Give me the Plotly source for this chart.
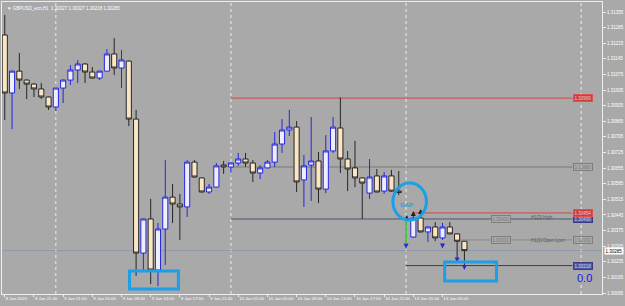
import plotly.graph_objects as go

# ---------------- data ----------------
bar_x = list(range(0, 55)) + list(range(56, 64))
open_ = [1.31252,1.30992,1.31090,1.31050,1.31032,1.31010,1.30974,1.30929,1.31014,1.31050,
         1.31095,1.31122,1.31086,1.31059,1.31090,1.31167,1.31104,1.31135,1.30875,1.30274,
         1.30427,1.30198,1.30382,1.30525,1.30494,1.30481,1.30682,1.30611,1.30548,1.30570,
         1.30669,1.30660,1.30678,1.30696,1.30678,1.30633,1.30656,1.30682,1.30763,1.30826,
         1.30839,1.30602,1.30669,1.30687,1.30561,1.30732,1.30835,1.30696,1.30656,1.30611,
         1.30543,1.30620,1.30552,1.30620,1.30552,
         1.30346,1.30431,1.30369,1.30391,1.30342,1.30391,1.30360,1.30327]
high = [1.31342,1.31092,1.31171,1.31052,1.31037,1.31037,1.30976,1.31016,1.31052,1.31117,
        1.31140,1.31126,1.31108,1.31092,1.31189,1.31238,1.31185,1.31137,1.30916,1.30429,
        1.30517,1.30409,1.30691,1.30584,1.30539,1.30691,1.30691,1.30613,1.30584,1.30678,
        1.30687,1.30680,1.30723,1.30723,1.30691,1.30669,1.30691,1.30817,1.30875,1.30916,
        1.30866,1.30714,1.30884,1.30727,1.30803,1.30884,1.30972,1.30732,1.30777,1.30613,
        1.30696,1.30651,1.30638,1.30647,1.30642,
        1.30454,1.30467,1.30393,1.30413,1.30409,1.30413,1.30362,1.30327]
low = [1.30871,1.30830,1.31010,1.30965,1.30974,1.30965,1.30916,1.30911,1.30947,1.31028,
       1.31037,1.31037,1.31057,1.31050,1.31088,1.31073,1.31014,1.30844,1.30172,1.30198,
       1.30135,1.30126,1.30221,1.30409,1.30333,1.30436,1.30613,1.30546,1.30539,1.30568,
       1.30629,1.30633,1.30665,1.30660,1.30593,1.30606,1.30654,1.30660,1.30723,1.30799,
       1.30548,1.30481,1.30508,1.30499,1.30543,1.30723,1.30633,1.30552,1.30570,1.30427,
       1.30517,1.30546,1.30539,1.30548,1.30534,
       1.30344,1.30367,1.30324,1.30328,1.30333,1.30358,1.30243,1.30218]
close = [1.30992,1.31090,1.31050,1.31032,1.31010,1.30974,1.30929,1.31014,1.31050,1.31095,
         1.31122,1.31086,1.31059,1.31090,1.31167,1.31104,1.31140,1.30875,1.30274,1.30427,
         1.30198,1.30382,1.30525,1.30494,1.30481,1.30682,1.30615,1.30548,1.30570,1.30665,
         1.30660,1.30678,1.30696,1.30678,1.30633,1.30656,1.30682,1.30763,1.30826,1.30839,
         1.30593,1.30665,1.30687,1.30561,1.30732,1.30839,1.30696,1.30651,1.30611,1.30588,
         1.30615,1.30548,1.30620,1.30552,1.30546,
         1.30431,1.30369,1.30391,1.30342,1.30391,1.30360,1.30327,1.30285]

gap_x = [55]
gap_top = [1.30427]
gap_bottom = [1.30319]

tick_bars = [0, 4, 8, 12, 16, 20, 24, 28, 32, 36, 40, 44, 48, 52, 56, 60]
tick_text = ["8 Jan 2020", "8 Jan 21:00", "9 Jan 01:00", "9 Jan 05:00", "9 Jan 09:00",
             "9 Jan 13:00", "9 Jan 17:00", "9 Jan 21:00", "10 Jan 01:00", "10 Jan 05:00",
             "10 Jan 09:00", "10 Jan 13:00", "10 Jan 17:00", "10 Jan 21:00",
             "13 Jan 01:00", "13 Jan 05:00"]
day_separators = [7, 31, 55, 79]

price_ticks = ["1.30095", "1.30165", "1.30235", "1.30305", "1.30375", "1.30445", "1.30515",
               "1.30585", "1.30655", "1.30725", "1.30795", "1.30865", "1.30935", "1.31005",
               "1.31075", "1.31145", "1.31215", "1.31285", "1.31355"]

level_prices = [1.30969, 1.30660, 1.30427, 1.30454, 1.30333, 1.30218]
level_start = [31, 31, 31, 56, 62, 55]
level_labels = ["1.30969", "1.30660", "1.30430", "1.30454", "1.30333", "1.30218"]

up_arrow_x = [55.1, 56, 57]
up_arrow_y = [1.30445, 1.30463, 1.30472]
down_arrow_x = [55, 60, 62, 63]
down_arrow_y = [1.30295, 1.30295, 1.30232, 1.30198]

bid_price = 1.30285
title_text = "▼ GBPUSD_ecn,H1  1.30327 1.30327 1.30218 1.30285"

# ---------------- styles ----------------
BG = "#A9A9A9"
CYAN = "#1B9FE6"
FONT = "Liberation Sans"
level_styles = [
    dict(line="#D24848", box_bg="#C84040", box_border="#E05050", text="#F4C8C8"),
    dict(line="#7A7A7A", box_bg="rgba(0,0,0,0)", box_border="#7E7E7E", text="#7A7A7A"),
    dict(line="#4E5474", box_bg="#5058A0", box_border="#383E80", text="#D0D4F0"),
    dict(line="#D24848", box_bg="#C84040", box_border="#E05050", text="#F4C8C8"),
    dict(line="#8A8A8A", box_bg="rgba(0,0,0,0)", box_border="#7E7E7E", text="#7A7A7A"),
    dict(line="#343C78", box_bg="#5058A0", box_border="#383E80", text="#D0D4F0"),
]

fig = go.Figure()

fig.add_trace(go.Candlestick(
    x=bar_x, open=open_, high=high, low=low, close=close,
    increasing=dict(line=dict(color="#2626E0", width=1), fillcolor="#EEEEFF"),
    decreasing=dict(line=dict(color="#262626", width=1), fillcolor="#FBE6C4"),
    whiskerwidth=0, showlegend=False, hoverinfo="skip",
))

for gx, gt, gb in zip(gap_x, gap_top, gap_bottom):
    fig.add_trace(go.Scatter(x=[gx, gx], y=[gt, gb], mode="lines",
                             line=dict(color="#22CC22", width=1.5),
                             showlegend=False, hoverinfo="skip"))

fig.add_trace(go.Scatter(x=up_arrow_x, y=up_arrow_y, mode="markers",
                         marker=dict(symbol="arrow-up", size=5, color="#202020"),
                         showlegend=False, hoverinfo="skip"))
fig.add_trace(go.Scatter(x=down_arrow_x, y=down_arrow_y, mode="markers",
                         marker=dict(symbol="arrow-down", size=5, color="#2828D0"),
                         showlegend=False, hoverinfo="skip"))

shapes = []
X_END = 77.8
for d in day_separators:
    shapes.append(dict(type="line", xref="x", yref="paper", x0=d, x1=d, y0=0, y1=1,
                       line=dict(color="#EDEDED", width=1, dash="dot"), layer="below"))
shapes.append(dict(type="line", xref="paper", yref="y", x0=0, x1=1, y0=bid_price, y1=bid_price,
                   line=dict(color="#8D9AAE", width=1), layer="below"))
for p, s, st in zip(level_prices, level_start, level_styles):
    shapes.append(dict(type="line", xref="x", yref="y", x0=s, x1=X_END, y0=p, y1=p,
                       line=dict(color=st["line"], width=1), layer="below"))
shapes.append(dict(type="rect", xref="x", yref="y", x0=17.1, x1=23.8, y0=1.30113, y1=1.30194,
                   line=dict(color=CYAN, width=3)))
shapes.append(dict(type="rect", xref="x", yref="y", x0=60.3, x1=67.4, y0=1.30149, y1=1.30234,
                   line=dict(color=CYAN, width=3)))
shapes.append(dict(type="circle", xref="x", yref="y", x0=53.2, x1=57.8, y0=1.30422, y1=1.30588,
                   line=dict(color=CYAN, width=3)))

annotations = []
for p, lab, st in zip(level_prices, level_labels, level_styles):
    annotations.append(dict(x=X_END + 0.1, y=p, xref="x", yref="y", text=lab, showarrow=False,
                            xanchor="left", yanchor="middle",
                            font=dict(family=FONT, size=4.5, color=st["text"]),
                            bgcolor=st["box_bg"], bordercolor=st["box_border"],
                            borderwidth=1, borderpad=0.5))
annotations.append(dict(x=66.7, y=level_prices[2], xref="x", yref="y", text="1.30430",
                        showarrow=False, xanchor="left", yanchor="middle",
                        font=dict(family=FONT, size=4.5, color="#7A7A7A"),
                        bgcolor=BG, bordercolor="#7E7E7E", borderwidth=1, borderpad=0.5))
annotations.append(dict(x=66.7, y=level_prices[4], xref="x", yref="y", text="1.30333",
                        showarrow=False, xanchor="left", yanchor="middle",
                        font=dict(family=FONT, size=4.5, color="#7A7A7A"),
                        bgcolor=BG, bordercolor="#7E7E7E", borderwidth=1, borderpad=0.5))
annotations.append(dict(x=71.8, y=level_prices[2] + 0.00006, xref="x", yref="y", text="H1[3] High",
                        showarrow=False, xanchor="left", yanchor="middle",
                        font=dict(family=FONT, size=4.5, color="#5A5A5A")))
annotations.append(dict(x=71.8, y=level_prices[4] - 0.00004, xref="x", yref="y", text="H1[3] Open Lyon",
                        showarrow=False, xanchor="left", yanchor="middle",
                        font=dict(family=FONT, size=4.5, color="#5A5A5A")))
annotations.append(dict(x=55.0, y=1.30490, xref="x", yref="y", text="<b>GAP</b>", showarrow=False,
                        font=dict(family=FONT, size=6, color=CYAN)))
annotations.append(dict(x=79.4, y=1.30162, xref="x", yref="y", text="0.0", showarrow=False,
                        font=dict(family=FONT, size=11, color="#1010F0")))
annotations.append(dict(x=1.003, y=bid_price, xref="paper", yref="y", text="1.30285",
                        showarrow=False, xanchor="left", yanchor="middle",
                        font=dict(family=FONT, size=4.5, color="#000000"),
                        bgcolor="#FFFFFF", borderpad=0.5))
annotations.append(dict(x=0.005, y=0.992, xref="paper", yref="paper", text=title_text,
                        showarrow=False, xanchor="left", yanchor="top",
                        font=dict(family=FONT, size=4.5, color="#FFFFFF")))

fig.update_layout(
    width=625, height=306,
    margin=dict(l=1, r=22, t=2, b=12),
    paper_bgcolor=BG, plot_bgcolor=BG,
    shapes=shapes, annotations=annotations,
    showlegend=False, boxgap=0.0, boxgroupgap=0.3,
    xaxis=dict(range=[-0.38, 81.86], rangeslider=dict(visible=False),
               tickmode="array", tickvals=tick_bars, ticktext=tick_text,
               ticklabelposition="outside right", tickangle=0,
               ticks="outside", ticklen=2, tickcolor="#EEEEEE",
               tickfont=dict(family=FONT, size=4.3, color="#FFFFFF"),
               showgrid=False, zeroline=False,
               showline=True, linecolor="#EEEEEE", linewidth=1, mirror=True),
    yaxis=dict(range=[1.300905, 1.314000], side="right",
               tickmode="array", tickvals=[float(t) for t in price_ticks], ticktext=price_ticks,
               ticks="outside", ticklen=3, tickcolor="#EEEEEE",
               tickfont=dict(family=FONT, size=4.5, color="#FFFFFF"),
               showgrid=False, zeroline=False,
               showline=True, linecolor="#EEEEEE", linewidth=1, mirror=True),
)

fig.write_html("out.html")
